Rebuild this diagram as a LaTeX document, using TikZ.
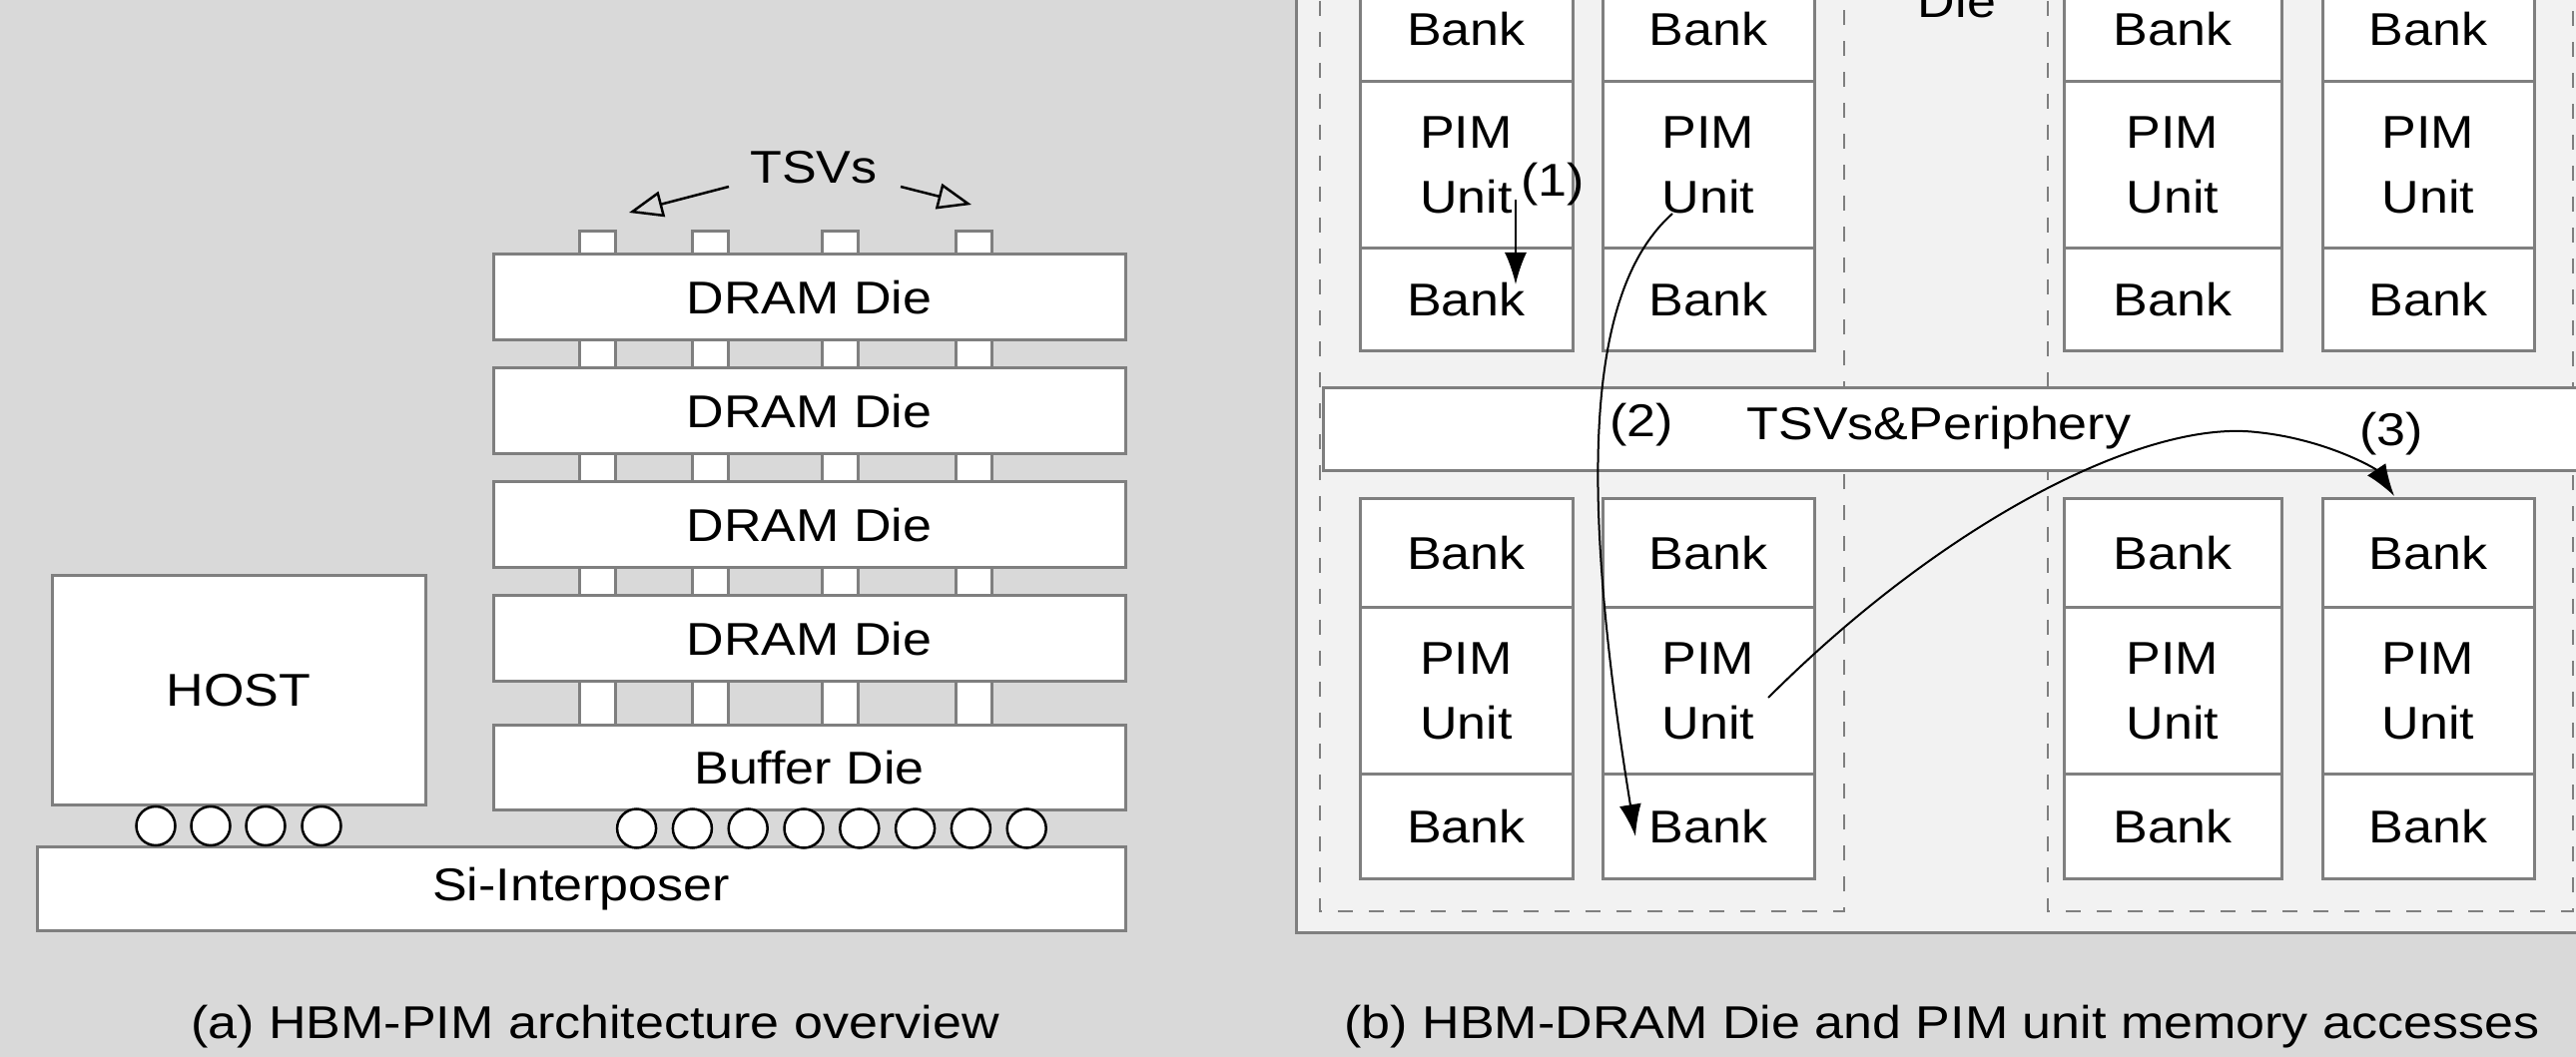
\documentclass[tikz,border=0pt]{standalone}
\usepackage{fontspec}
\setmainfont{Liberation Sans}[FakeStretch=1.13]
\usetikzlibrary{arrows.meta}
\definecolor{bg}{HTML}{D9D9D9}
\definecolor{panel}{HTML}{F2F2F2}
\definecolor{edge}{HTML}{7F7F7F}
\begin{document}
\begin{tikzpicture}[x=0.1mm,y=-0.1mm,
  font=\fontsize{13.1}{18.5}\selectfont,
  box/.style={draw=edge,line width=0.3mm,fill=white,inner sep=0pt,align=center},
  pad/.style={draw=edge,line width=0.3mm,fill=white},
  bump/.style={circle,draw=black,line width=0.25mm,fill=white,minimum size=3.9mm,inner sep=0pt},
  dieframe/.style={draw=edge,line width=0.22mm,dash pattern=on 1.5mm off 1.6mm},
  flow/.style={line width=0.2mm,-{Latex[length=3.2mm,width=2.2mm]}},
  hint/.style={line width=0.25mm,-{Triangle[open,length=3.4mm,width=2.6mm]}}]
\useasboundingbox (0,0) rectangle (2580,1059);
\clip (0,0) rectangle (2580,1059);
\fill[bg] (0,0) rectangle (2580,1059);

% ---------- (a) stack overview ----------
% through-silicon vias, drawn behind the dies
\foreach \px in {598,711,841,975}
  \draw[pad] (\px-18,232) rectangle (\px+18,727);

\node[box,minimum width=63.3mm,minimum height=8.6mm] (d1) at (810.5,298) {DRAM Die};
\node[box,minimum width=63.3mm,minimum height=8.6mm] (d2) at (810.5,412) {DRAM Die};
\node[box,minimum width=63.3mm,minimum height=8.6mm] (d3) at (810.5,526) {DRAM Die};
\node[box,minimum width=63.3mm,minimum height=8.6mm] (d4) at (810.5,640) {DRAM Die};
\node[box,minimum width=63.3mm,minimum height=8.5mm] (buf) at (810.5,769.5) {Buffer Die};
\node[box,minimum width=37.4mm,minimum height=23mm] (host) at (239,692) {HOST};
\node[box,minimum width=109mm,minimum height=8.5mm] (si) at (582,890.5) {Si-Interposer};

\foreach \bx [count=\i] in {156,211,266,322}
  \node[bump] (hb\i) at (\bx,827.5) {};
\foreach \bx [count=\i] in {637.6,693.4,749.2,805,860.8,916.6,972.4,1028.2}
  \node[bump] (sb\i) at (\bx,830) {};

\node[anchor=base] (tsvl) at (815,184) {TSVs};
\coordinate (tsvA) at (730,187);
\coordinate (tsvAe) at (630,213);
\coordinate (tsvB) at (902,187);
\coordinate (tsvBe) at (973,205);
\draw[hint] (tsvA) -- (tsvAe);
\draw[hint] (tsvB) -- (tsvBe);

\node[anchor=base] (capa) at (596,1040) {(a) HBM-PIM architecture overview};

% ---------- (b) DRAM die floor plan ----------
\node[draw=edge,fill=panel,line width=0.3mm,minimum width=132.3mm,minimum height=96.3mm,
      anchor=north west,inner sep=0pt] (die) at (1297,-30) {};
\draw[dieframe] (1322,-30) rectangle (1847,913);
\draw[dieframe] (2051,-30) rectangle (2577,913);
\node[anchor=base] (dielabel) at (1960,18) {Die};

\foreach \n/\cx/\w in {1/1468.5/21.3,2/1711/21.2,3/2176/21.8,4/2432/21.2}{
  \node[box,minimum width=\w mm,minimum height=10.5mm] (tb\n) at (\cx,29.5) {Bank};
  \node[box,minimum width=\w mm,minimum height=16.7mm] (tp\n) at (\cx,165.5) {PIM\\Unit};
  \node[box,minimum width=\w mm,minimum height=10.3mm] (tq\n) at (\cx,300.5) {Bank};
  \node[box,minimum width=\w mm,minimum height=10.9mm] (bb\n) at (\cx,554.5) {Bank};
  \node[box,minimum width=\w mm,minimum height=16.7mm] (bp\n) at (\cx,692.5) {PIM\\Unit};
  \node[box,minimum width=\w mm,minimum height=10.5mm] (bq\n) at (\cx,828.5) {Bank};
}

\node[box,minimum width=129.6mm,minimum height=8.3mm,anchor=north west] (tsvp) at (1324,387) {};
\node[anchor=base] (tsvtext) at (1942,441) {TSVs\&Periphery};

\node[anchor=base] (l1) at (1555,197) {(1)};
\node[anchor=base] (l2) at (1644,438) {(2)};
\node[anchor=base] (l3) at (2395,447) {(3)};

% memory access paths
\coordinate (p1s) at (1518,200);
\coordinate (p1e) at (1518,285);
\draw[flow] (p1s) -- (p1e);

\coordinate (p2s) at (1675,214);
\coordinate (p2e) at (1638,838);
\draw[flow] (p2s) .. controls (1590,290) and (1580,480) .. (p2e);

\coordinate (p3s) at (1771,699);
\coordinate (p3m) at (2260,433);
\coordinate (p3e) at (2398,497);
\draw[flow] (p3s) .. controls (1950,520) and (2150,420) .. (p3m)
                  .. controls (2330,440) and (2380,470) .. (p3e);

\node[anchor=base] (capb) at (1945,1040) {(b) HBM-DRAM Die and PIM unit memory accesses};
\end{tikzpicture}
\end{document}
